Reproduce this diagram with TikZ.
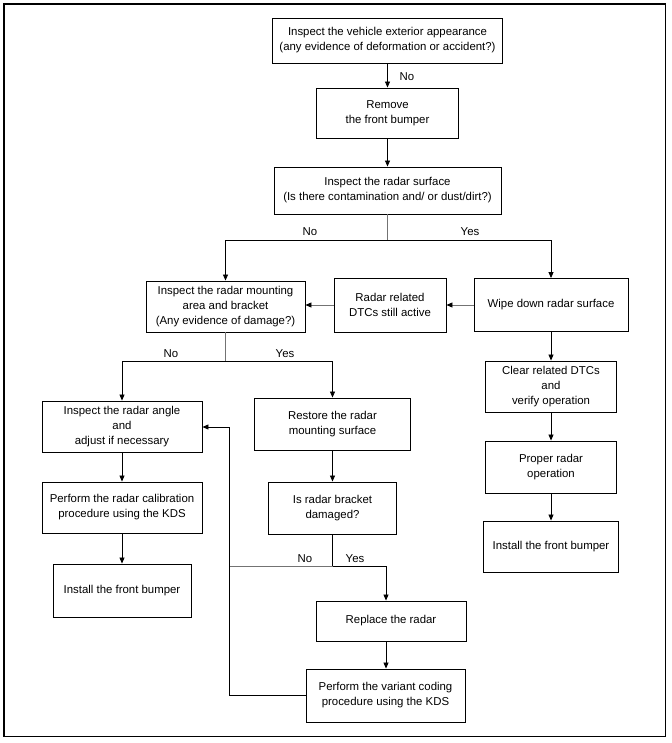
\documentclass[tikz,border=0pt]{standalone}
\usepackage{fontspec}
\setmainfont{Liberation Sans}
\usetikzlibrary{arrows.meta}
\tikzset{
  box/.style={draw, line width=0.9pt, align=center, inner sep=0pt,
    font=\fontsize{11.4}{15}\selectfont},
  lbl/.style={inner sep=0pt, font=\fontsize{11.4}{13}\selectfont},
  ln/.style={line width=0.8pt},
  gln/.style={line width=0.8pt, draw=black!55},
  arr/.style={line width=0.8pt, -{Triangle[length=6pt,width=5pt]}},
  garr/.style={line width=0.8pt, draw=black!55, -{Triangle[length=6pt,width=5pt,fill=black,color=black]}}
}
\begin{document}
\begin{tikzpicture}[x=1pt,y=-1pt]
\useasboundingbox (0,0) rectangle (671,743);
\draw[line width=1.2pt] (4,4) rectangle (665.5,736.5);

% boxes
\node[box, minimum width=230pt, minimum height=45pt] (b1) at (387.5,40.5)
  {Inspect the vehicle exterior appearance\\(any evidence of deformation or accident?)};
\node[box, minimum width=142pt, minimum height=50pt] (b2) at (387.5,113)
  {Remove\\the front bumper};
\node[box, minimum width=227pt, minimum height=47pt] (b3) at (387.5,190.5)
  {Inspect the radar surface\\(Is there contamination and/ or dust/dirt?)};
\node[box, minimum width=159pt, minimum height=51pt] (b4) at (225.5,306.5)
  {Inspect the radar mounting\\area and bracket\\(Any evidence of damage?)};
\node[box, minimum width=112pt, minimum height=54pt] (b5) at (390,305)
  {Radar related\\DTCs still active};
\node[box, minimum width=154pt, minimum height=53pt] (b6) at (551,305)
  {Wipe down radar surface};
\node[box, minimum width=160pt, minimum height=51pt] (b7) at (122,426.5)
  {Inspect the radar angle\\and\\adjust if necessary};
\node[box, minimum width=160pt, minimum height=51pt] (b8) at (122,507.5)
  {Perform the radar calibration\\procedure using the KDS};
\node[box, minimum width=138pt, minimum height=53pt] (b11) at (122,590.5)
  {Install the front bumper};
\node[box, minimum width=156pt, minimum height=52pt] (b9) at (332.5,424)
  {Restore the radar\\mounting surface};
\node[box, minimum width=128pt, minimum height=52pt] (b10) at (332.5,508)
  {Is radar bracket\\damaged?};
\node[box, minimum width=150pt, minimum height=40pt] (b15) at (391,621)
  {Replace the radar};
\node[box, minimum width=159pt, minimum height=53pt] (b16) at (385.5,695.5)
  {Perform the variant coding\\procedure using the KDS};
\node[box, minimum width=131pt, minimum height=51pt] (b12) at (551,386.5)
  {Clear related DTCs\\and\\verify operation};
\node[box, minimum width=131pt, minimum height=52pt] (b13) at (551,467)
  {Proper radar\\operation};
\node[box, minimum width=135pt, minimum height=51pt] (b14) at (551,546.5)
  {Install the front bumper};

% junction coordinates
\coordinate (s1) at (387.5,240);
\coordinate (s2) at (225.5,361);
\coordinate (s3) at (332.5,566);
\coordinate (s4) at (386,566);
\coordinate (f1) at (229,566);
\coordinate (fb) at (229,427);

% connectors
\draw[arr] (b1) -- (b2);
\draw[arr] (b2) -- (b3);
\draw[gln] (b3.south) -- (s1);
\draw[arr] (s1) -| (b4.north);
\draw[arr] (s1) -| (b6.north);
\draw[garr] (b6.west) -- (b5.east);
\draw[garr] (b5.west) -- (b4.east |- b5.west);
\draw[gln] (b4.south) -- (s2);
\draw[arr] (s2) -| (b7.north);
\draw[arr] (s2) -| (b9.north);
\draw[arr] (b7) -- (b8);
\draw[arr] (b8) -- (b11);
\draw[arr] (b9) -- (b10);
\draw[ln] (b10.south) -- (s3);
\draw[gln] (s3) -- (f1);
\draw[arr] (s3) -- (s4) -- (s4 |- b15.north);
\draw[arr] (b15.south -| s4) -- (b16.north -| s4);
\draw[arr] (b16.west) -| (fb) -- (fb -| b7.east);
\draw[arr] (b6) -- (b12);
\draw[arr] (b12) -- (b13);
\draw[arr] (b13) -- (b14);

% labels
\node[lbl] (l1) at (407,77) {No};
\node[lbl] (l2) at (310,232) {No};
\node[lbl] (l3) at (470,232) {Yes};
\node[lbl] (l4) at (171,354) {No};
\node[lbl] (l5) at (285,354) {Yes};
\node[lbl] (l6) at (305,559) {No};
\node[lbl] (l7) at (355,559) {Yes};
\end{tikzpicture}
\end{document}
